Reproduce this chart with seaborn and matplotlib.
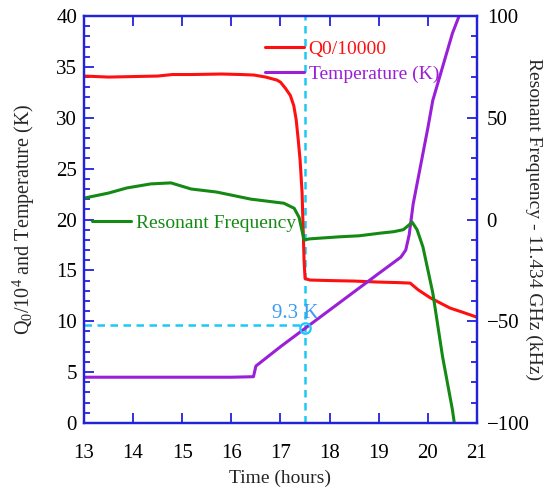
import numpy as np
import pandas as pd
import matplotlib
matplotlib.use("Agg")
import matplotlib.pyplot as plt
from matplotlib.ticker import MultipleLocator
import seaborn as sns

# ---- data ----
q_time = [13.0, 13.5, 14.0, 14.5, 14.8, 15.2, 15.8, 16.2, 16.46, 16.7, 16.93, 17.0, 17.1,
          17.2, 17.27, 17.32, 17.36, 17.4, 17.44, 17.46, 17.48, 17.5, 17.6, 18.0, 18.5, 19.0,
          19.4, 19.64, 19.8, 20.05, 20.25, 20.45, 20.7, 21.0]
q_vals = [34.1, 34.0, 34.05, 34.1, 34.25, 34.25, 34.3, 34.25, 34.2, 34.0, 33.7, 33.5, 32.9,
          32.2, 31.2, 29.8, 27.9, 25.8, 22.6, 19.3, 16.0, 14.2, 14.05, 14.0, 13.95, 13.85,
          13.8, 13.75, 13.1, 12.3, 11.8, 11.3, 10.9, 10.4]

t_time = [13.0, 14.0, 15.0, 16.0, 16.45, 16.5, 17.0, 17.5, 18.0, 18.5, 19.0, 19.45,
          19.55, 19.62, 19.7, 19.8, 20.0, 20.1, 20.3, 20.5, 20.7]
t_vals = [4.5, 4.5, 4.5, 4.5, 4.55, 5.6, 7.5, 9.3, 11.1, 12.9, 14.7, 16.3,
          17.0, 18.5, 21.5, 24.0, 29.0, 31.7, 35.0, 38.3, 40.8]

f_time = [13.0, 13.5, 13.87, 14.36, 14.77, 15.18, 15.7, 16.4, 17.07, 17.28, 17.38, 17.42,
          17.48, 17.6, 18.2, 18.6, 19.03, 19.3, 19.5, 19.6, 19.68, 19.78, 19.9, 20.1,
          20.3, 20.5, 20.55]
f_vals = [10.5, 13.0, 15.5, 17.5, 18.0, 15.0, 13.5, 10.0, 8.0, 5.5, 1.0, -3.5,
          -10.0, -9.5, -8.5, -8.0, -6.7, -6.0, -5.0, -3.0, -1.3, -5.0, -13.5, -36.0,
          -67.5, -93.5, -102.0]

marker_time = 17.5
marker_temp = 9.3
guide_level = 9.65
marker_label = "9.3 K"

# ---- style ----
sns.set_style("ticks")
plt.rcParams['font.family'] = ['Liberation Serif', 'DejaVu Serif']
plt.rcParams['mathtext.fontset'] = 'custom'
plt.rcParams['mathtext.rm'] = 'Liberation Serif'
plt.rcParams['mathtext.it'] = 'Liberation Serif:italic'

RED = '#ff1010'
PURPLE = '#9a1fd8'
GREEN = '#148a14'
CYAN = '#1ec8f5'
BLUE = '#2222dd'

fig = plt.figure(figsize=(5.46, 4.87), dpi=100)
ax = fig.add_axes([0.1538, 0.1314, 0.7198, 0.8357])
ax2 = ax.twinx()

sns.lineplot(x=q_time, y=q_vals, ax=ax, color=RED, lw=2.2, sort=False, estimator=None,
             label='Q0/10000', legend=False)
sns.lineplot(x=t_time, y=t_vals, ax=ax, color=PURPLE, lw=2.2, sort=False, estimator=None,
             label='Temperature (K)', legend=False)
sns.lineplot(x=f_time, y=f_vals, ax=ax2, color=GREEN, lw=2.2, sort=False, estimator=None,
             label='Resonant Frequency', legend=False)

# guides
ax.axvline(marker_time, color=CYAN, lw=1.8, ls=(0, (3, 2.2)), zorder=1)
ax.plot([13, marker_time], [guide_level, guide_level], color=CYAN, lw=1.8,
        ls=(0, (3, 2.2)), zorder=1)
ax.plot([marker_time], [marker_temp], marker='o', ms=7.5, mfc='none', mec=CYAN,
        mew=1.6, ls='none', zorder=3)
ax.text(17.3, 10.8, marker_label, color='#3d9cf0', fontsize=15, ha='center', va='center')

# axes
ax.set_xlim(13, 21)
ax.set_ylim(0, 40)
ax2.set_ylim(-100, 100)
ax.set_xticks(range(13, 22))
ax.yaxis.set_major_locator(MultipleLocator(5))
ax.yaxis.set_minor_locator(MultipleLocator(1))
ax2.yaxis.set_major_locator(MultipleLocator(50))
ax2.yaxis.set_minor_locator(MultipleLocator(10))

ax.tick_params(axis='both', which='both', direction='in', color=BLUE, labelcolor='black',
               labelsize=15, top=True, right=False, width=1.3)
ax.tick_params(axis='both', which='major', length=7)
ax.tick_params(axis='y', which='minor', length=4)
ax.tick_params(axis='x', which='major', pad=15)
ax.tick_params(axis='y', which='major', pad=5)
ax2.tick_params(axis='y', which='both', direction='in', color=BLUE, labelcolor='black',
                labelsize=15, left=False, right=True, width=1.3, pad=7)
ax2.tick_params(axis='y', which='major', length=7)
ax2.tick_params(axis='y', which='minor', length=4)

for a in (ax, ax2):
    for s in a.spines.values():
        s.set_color(BLUE)
        s.set_linewidth(1.6)

ax.set_xlabel('Time (hours)', fontsize=14, labelpad=5)
ax.set_ylabel('Q$_0$/10$^4$ and Temperature (K)', fontsize=14.5, labelpad=14)
ax2.set_ylabel('Resonant Frequency - 11.434 GHz (kHz)', fontsize=14, rotation=270,
               labelpad=9)

lines1 = ax.get_lines()
ax.legend(handles=[lines1[0], lines1[1]], loc='upper left',
          bbox_to_anchor=(0.46, 0.941), frameon=False, labelcolor='linecolor',
          handlelength=2.0, handletextpad=0.25, borderpad=0, borderaxespad=0,
          labelspacing=0.4, fontsize=14)
ax2.legend(handles=[ax2.get_lines()[0]], loc='center left',
           bbox_to_anchor=(0.02, 0.492), frameon=False, labelcolor='linecolor',
           handlelength=2.0, handletextpad=0.25, borderpad=0, borderaxespad=0,
           fontsize=14)

fig.savefig('out.png', dpi=100)
